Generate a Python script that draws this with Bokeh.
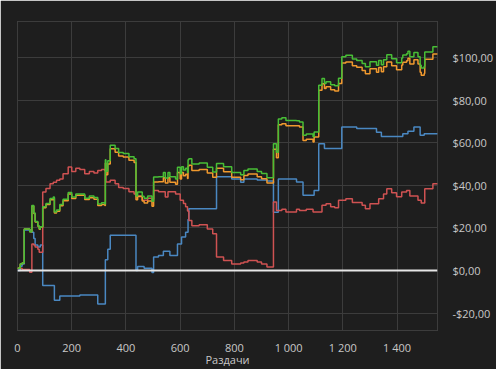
from bokeh.plotting import figure
from bokeh.models import FixedTicker, Span, ColumnDataSource
from bokeh.embed import file_html
from bokeh.resources import INLINE

hands = [0, 10, 17, 25, 45, 53, 60, 65, 75, 80, 84, 93, 105, 120, 132, 136, 144, 156, 168, 187,
         200, 215, 230, 248, 265, 282, 296, 310, 322, 324, 326, 333, 342, 360, 373, 390, 411, 430,
         437, 443, 460, 467, 480, 496, 502, 520, 538, 545, 555, 562, 583, 590, 600, 605, 612, 620,
         627, 629, 632, 643, 670, 700, 720, 734, 760, 790, 823, 835, 850, 884, 900, 920, 944, 955,
         962, 975, 990, 1029, 1040, 1053, 1065, 1090, 1094, 1111, 1123, 1132, 1138, 1155, 1170,
         1184, 1196, 1211, 1235, 1251, 1271, 1283, 1300, 1324, 1332, 1342, 1350, 1362, 1380, 1398,
         1417, 1421, 1435, 1440, 1447, 1462, 1477, 1485, 1489, 1500, 1502, 1532, 1550]

blue = [0, 2, 3, 19, 19, 18, 15, 12, 11, 11, 12, -7, -7, -7, -7, -14, -14, -12, -12, -12,
        -12, -12, -11.5, -11.5, -11.5, -11.5, -15.7, -15.7, -15.7, 5, 5, 10, 16.5, 16.5, 16.5, 16.5, 16.5, 16.5,
        0, 1.9, 1.9, 1, 1, -1, 6.3, 7, 9, 9, 9, 7, 7, 12.5, 12.5, 15.7, 15.7, 18,
        18, 24, 29, 29, 29, 29, 29, 44, 44, 43, 41.5, 43, 43, 42.5, 42.5, 42, 27.4, 27.4,
        43, 43, 43, 41.6, 41.6, 35.3, 35.3, 35.3, 37.6, 59.6, 59.6, 57.3, 57.3, 57.3, 57.3,
        57.3, 67.4, 67.4, 67.4, 66.7, 66.7, 66.7, 66.7, 65, 65, 63, 63, 63, 63, 63,
        63, 64.3, 64.3, 65.4, 65.4, 67.4, 67.4, 63.5, 63.5, 64.3, 64.3, 64.3, 64.3]

red = [1, 1, 0.5, 0.5, -0.8, 12.5, 12, 11, 10, 8.6, 8.6, 36.9, 38.5, 40.8, 41.5, 41.5, 42.4, 43, 45.5, 48.6,
       46.5, 48, 47.5, 45.5, 46.5, 45.8, 47, 47.5, 47, 47, 41.6, 41.6, 42.4, 40.8, 39, 38.5, 37, 36,
       35, 35, 33, 33, 34, 33.5, 37.6, 37, 37, 34.5, 37, 37, 36, 36, 33, 33, 31.5, 30,
       28, 28, 23.5, 21, 21.5, 19.5, 17.3, 6.3, 4.7, 3.1, 3.5, 4, 4.7, 4, 3.1, 1.6, 32.2, 28.2,
       28.2, 28.8, 27.5, 28.8, 28.2, 28.2, 28.8, 27.5, 27.5, 27.5, 30.6, 30.6, 31.4, 30, 29.5,
       33, 33, 33.7, 32, 32, 30.6, 29, 31.4, 31.4, 33.7, 33.7, 36, 38.4, 36.5, 34.6,
       36.9, 36.9, 37.6, 37.6, 35, 35, 33, 33, 31.7, 31.7, 38.4, 40.8, 40.8]

green = [1, 3, 3.5, 19.5, 18.2, 30.5, 27, 23, 21, 19.6, 20.6, 29.9, 31.5, 33.8, 34.5, 27.5, 28.4, 31, 33.5, 36.6,
         34.5, 36, 36, 34, 35, 34.3, 31.3, 31.8, 31.3, 52, 46.6, 51.6, 58.9, 57.3, 55.5, 55, 53.5, 52.5,
         35, 36.9, 34.9, 34, 35, 32.5, 43.9, 44, 46, 43.5, 46, 44, 43, 48.5, 45.5, 48.7, 47.2, 48,
         46, 52, 52.5, 50, 50.5, 48.5, 46.3, 50.3, 48.7, 46.1, 45, 47, 47.7, 46.5, 45.6, 43.6, 59.6, 55.6,
         71.2, 71.8, 70.5, 70.4, 69.8, 63.5, 64.1, 62.8, 65.1, 87.1, 90.2, 87.9, 88.7, 87.3, 86.8,
         90.3, 100.4, 101.1, 99.4, 98.7, 97.3, 95.7, 98.1, 96.4, 98.7, 96.7, 99, 101.4, 99.5, 97.6,
         99.9, 101.2, 101.9, 103, 100.4, 102.4, 100.4, 96.5, 95.2, 96, 102.7, 105.1, 105.1]

orange = [1, 3, 3.5, 19.5, 18.2, 30.3, 26.8, 22.8, 20.8, 19.4, 20.4, 29.5, 31, 33.2, 34, 27, 27.8, 30.4, 32.8, 36,
          33.8, 35.3, 35.3, 33.3, 34.2, 33.5, 30.5, 31, 30.5, 50.5, 45, 50, 57.2, 55.6, 53.8, 53.3, 51.8, 50.8,
          33.2, 34.8, 32.6, 31.7, 32.7, 30.2, 41.6, 41.7, 43.6, 41.1, 43.6, 41.5, 40.5, 46, 43, 46, 44.5, 45.2,
          43.2, 49, 49.4, 47, 47.5, 45.8, 43.8, 48, 46.4, 43.8, 42.6, 44.6, 45.3, 44, 43.1, 41.1, 57, 53,
          68.5, 69, 68, 68, 67.4, 61.1, 61.7, 60.4, 62.7, 84.7, 87.8, 85.5, 86.3, 84.9, 84.4,
          87.9, 97.5, 98, 96.2, 95.5, 94, 92.4, 94.8, 93.1, 95.4, 93.4, 95.7, 98, 96.2, 94.3,
          96.6, 97.9, 98.6, 99.7, 97, 99, 97, 93.1, 91.8, 92.6, 99.3, 101.7, 101.7]

x_ticks = [0, 200, 400, 600, 800, 1000, 1200, 1400]
x_tick_labels = ["0", "200", "400", "600", "800", "1 000", "1 200", "1 400"]
y_ticks = [-20, 0, 20, 40, 60, 80, 100]
y_tick_labels = ["-$20,00", "$0,00", "$20,00", "$40,00", "$60,00", "$80,00", "$100,00"]
x_label = "Раздачи"

BG = "#1e1e1e"
GRID = "#3c3c3c"
TXT = "#c8c8c8"
FONT = "Open Sans"

src = ColumnDataSource(dict(hands=hands, blue=blue, red=red, green=green, orange=orange))

p = figure(width=496, height=369, output_backend="svg", toolbar_location=None,
           x_range=(0, 1549), y_range=(-28.2, 117), y_axis_location="right",
           min_border_left=17, min_border_top=21, min_border_bottom=39, min_border_right=53,
           background_fill_color=BG, border_fill_color=BG)
p.outline_line_color = GRID
p.outline_line_width = 1

for ax in (p.xaxis[0], p.yaxis[0]):
    ax.axis_line_color = None
    ax.major_tick_line_color = None
    ax.minor_tick_line_color = None
    ax.major_label_text_color = TXT
    ax.major_label_text_font = FONT
    ax.major_label_text_font_size = "11px"

p.xaxis.ticker = FixedTicker(ticks=x_ticks)
p.xaxis.major_label_overrides = dict(zip(x_ticks, x_tick_labels))
p.xaxis.major_label_standoff = 3
p.xaxis.axis_label = x_label
p.xaxis.axis_label_text_font = FONT
p.xaxis.axis_label_text_font_size = "11px"
p.xaxis.axis_label_text_font_style = "normal"
p.xaxis.axis_label_text_color = TXT
p.xaxis.axis_label_standoff = -6
p.yaxis.ticker = FixedTicker(ticks=y_ticks)
p.yaxis.major_label_standoff = 9
p.yaxis.major_label_overrides = dict(zip(y_ticks, y_tick_labels))

p.xgrid.grid_line_color = GRID
p.ygrid.grid_line_color = GRID
p.xgrid.ticker = FixedTicker(ticks=x_ticks)
p.ygrid.ticker = FixedTicker(ticks=y_ticks)

p.add_layout(Span(location=0, dimension="width", line_color="#e6e6e6", line_width=2))

p.step("hands", "blue", source=src, mode="after", line_color="#4a88c2", line_width=1.5)
p.step("hands", "red", source=src, mode="after", line_color="#cf5252", line_width=1.5)
p.step("hands", "orange", source=src, mode="after", line_color="#f0992e", line_width=1.5)
p.step("hands", "green", source=src, mode="after", line_color="#48be36", line_width=1.5)

open("out.html", "w").write(file_html(p, INLINE))
